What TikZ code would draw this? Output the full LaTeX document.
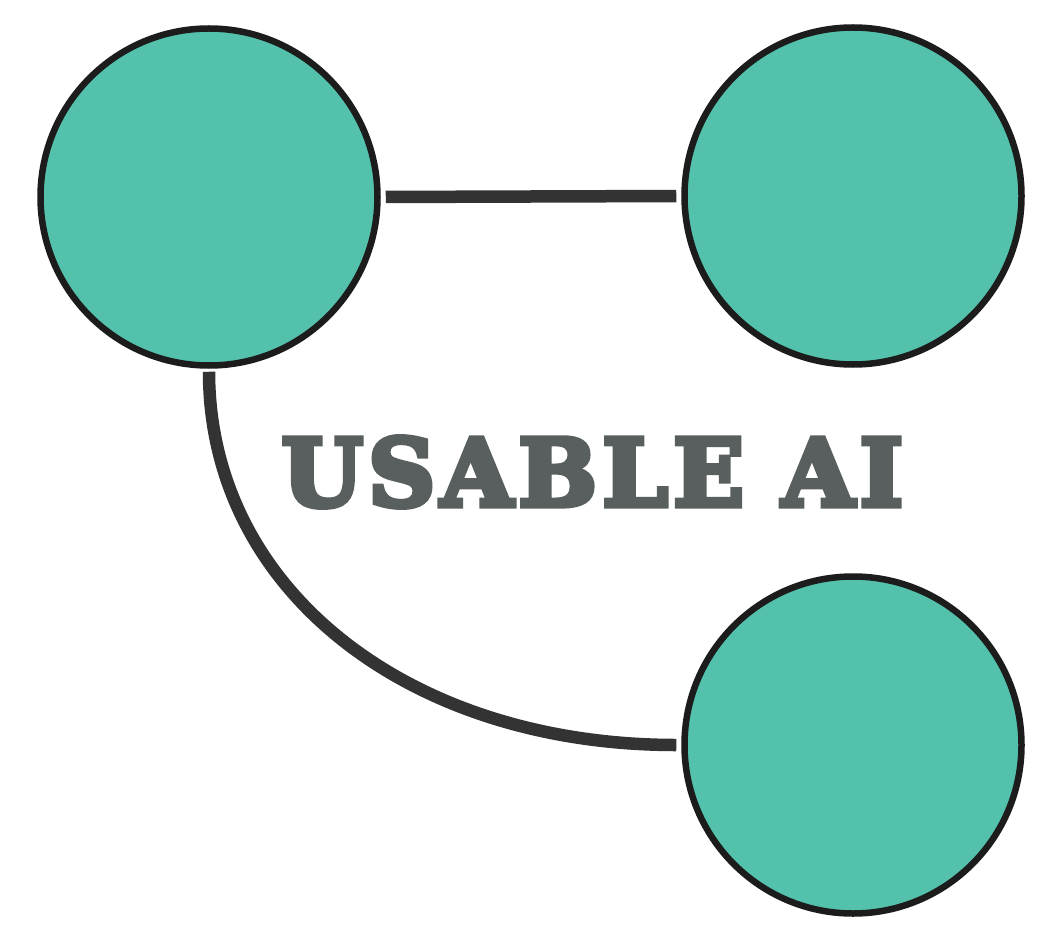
\documentclass[tikz,border=0pt]{standalone}
\usepackage{graphicx}
\usepackage{fontspec}
\newfontfamily\slabfont[LetterSpace=6,BoldFeatures={FakeBold=6}]{DejaVu Serif}
\definecolor{bubblefill}{HTML}{53C1AB}
\definecolor{bubbleline}{HTML}{1C1C1C}
\definecolor{linkgray}{HTML}{333333}
\definecolor{textgray}{HTML}{595F5F}
\tikzset{
  bubble/.style={circle, draw=bubbleline, line width=6.5pt, fill=bubblefill, minimum size=337pt, inner sep=0pt},
  link/.style={draw=linkgray, line width=12.5pt, line cap=butt},
  title/.style={text=textgray, inner sep=0pt}
}
\begin{document}
\begin{tikzpicture}[x=1pt,y=-1pt]
\useasboundingbox[fill=white] (0,0) rectangle (1062,941);
\node[bubble] (L) at (209,197) {};
\node[bubble] (TR) at (853,196) {};
\node[bubble] (BR) at (853,745) {};
\node[title] (T) at (592.5,472) {\resizebox{621pt}{69pt}{\slabfont\bfseries USABLE AI}};
\draw[link, shorten <=5pt, shorten >=5pt] (L.east) -- (TR.west);
\coordinate (cs) at ([yshift=-3pt]L.south);
\coordinate (ce) at ([xshift=-5pt]BR.west);
\draw[link] (cs) .. controls +(0,216) and +(-270,0) .. (ce);
\end{tikzpicture}
\end{document}
